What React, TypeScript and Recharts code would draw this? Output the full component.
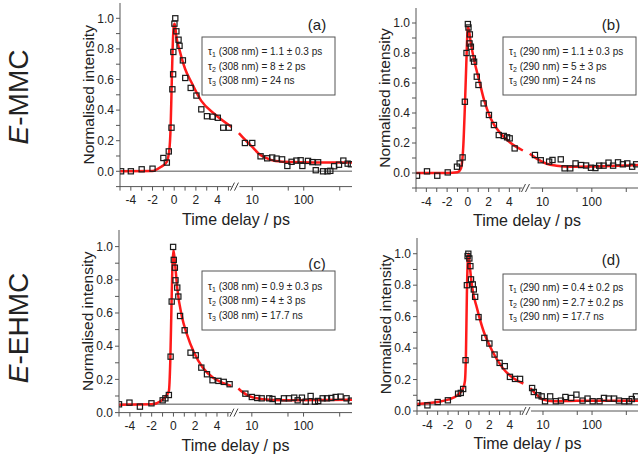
import React from 'react';
import { ComposedChart, Line, Scatter, XAxis, YAxis, ReferenceLine, ReferenceDot } from 'recharts';

// broken time axis: linear up to 5.3 ps, log beyond (one decade = 4.75 linear units)
const LIN_END = 5.3;
const toU = (t: number) => (t <= LIN_END ? t : 7.2 + 4.75 * (Math.log10(t) - 1));

const xTickTimes = [-5, -4, -3, -2, -1, 0, 1, 2, 3, 4, 5, 10, 50, 100, 500];
const xTickLabels = ['', '-4', '', '-2', '', '0', '', '2', '', '4', '', '10', '', '100', ''];

// (a) E-MMC, 308 nm
const aT = [-4.9, -4, -3, -2, -1, -0.68, -0.5, -0.25, -0.17, -0.1, -0.08, 0.02, 0.1, 0.2, 0.4, 0.49, 0.8, 1.02, 1.52, 2.05, 2.5, 3.02, 3.55, 4.02, 4.52, 5.04,
  7.2, 10, 14.5, 19.5, 24.4, 29.6, 38, 48, 58, 72, 87, 94, 121, 147, 171, 190, 237, 289, 328, 389, 483, 587, 713, 824];
const aY = [0, 0, 0.013, 0.017, 0.087, 0.057, 0.13, 0.285, 0.536, 0.634, 0.78, 0.965, 1.0, 0.915, 0.86, 0.82, 0.725, 0.61, 0.545, 0.495, 0.405, 0.36, 0.357, 0.35, 0.285, 0.285,
  0.185, 0.185, 0.098, 0.085, 0.09, 0.083, 0.078, 0.035, 0.062, 0.07, 0.072, 0.035, 0.068, 0.06, 0.007, 0.059, 0, 0, 0.003, 0.033, 0.043, 0.07, 0.05, 0.046];
const aFitLinT = [-5, -2, -1.2, -0.7, -0.45, -0.33, -0.25, -0.15, -0.03, 0.05, 0.2, 0.5, 1, 1.6, 2.5, 3.8, 5.3];
const aFitLinY = [0, 0.002, 0.03, 0.06, 0.14, 0.29, 0.51, 0.79, 0.955, 0.965, 0.88, 0.79, 0.67, 0.58, 0.46, 0.37, 0.29];
const aFitLogT = [5.5, 7.4, 10, 13.4, 18, 28, 60, 150, 900];
const aFitLogY = [0.25, 0.203, 0.159, 0.115, 0.089, 0.067, 0.06, 0.058, 0.057];
const aTau = ['1.1 ± 0.3 ps', '8 ± 2 ps', '24 ns'];

// (b) E-MMC, 290 nm
const bT = [-4.9, -3.94, -2.95, -1.94, -1.05, -0.79, -0.51, -0.29, -0.13, 0, 0.06, 0.19, 0.16, 0.29, 0.48, 0.6, 0.86, 1.02, 1.52, 2.03, 2.51, 2.98, 3.46, 3.78, 4.03, 4.51,
  7.0, 9.2, 13.6, 15.9, 23.4, 28, 36.5, 46.7, 60.6, 76.5, 96, 118, 141, 173, 218, 270, 340, 426, 524, 658, 793];
const bY = [-0.018, 0.011, -0.018, 0.004, 0.042, 0.064, 0.104, 0.475, 0.8, 0.993, 0.97, 0.924, 0.864, 0.842, 0.764, 0.742, 0.642, 0.587, 0.464, 0.387, 0.32, 0.253, 0.247, 0.238, 0.231, 0.164,
  0.12, 0.085, 0.076, 0.087, 0.091, 0.031, 0.031, 0.064, 0.053, 0.05, 0.035, 0.033, 0.049, 0.049, 0.069, 0.049, 0.071, 0.058, 0.064, 0.042, 0.058];
const bFitLinT = [-5, -2, -1, -0.67, -0.44, -0.29, -0.16, -0.03, 0.03, 0.29, 0.6, 1.08, 1.56, 2.2, 3.14, 4.1, 5.3];
const bFitLinY = [0, 0, 0.005, 0.03, 0.18, 0.44, 0.71, 0.95, 0.975, 0.864, 0.753, 0.62, 0.487, 0.364, 0.264, 0.202, 0.15];
const bFitLogT = [5.5, 7.6, 12.1, 19.1, 38.8, 166, 900];
const bFitLogY = [0.128, 0.096, 0.062, 0.049, 0.042, 0.045, 0.053];
const bTau = ['1.1 ± 0.3 ps', '5 ± 3 ps', '24 ns'];

// (c) E-EHMC, 308 nm
const cT = [-5, -4.04, -3.08, -2.02, -0.99, -0.74, -0.42, -0.26, -0.16, -0.03, 0.03, 0.13, 0.19, 0.35, 0.45, 0.61, 1.03, 1.57, 2.05, 2.56, 3.08, 3.59, 4.13, 4.62, 5.16,
  7.5, 10, 12.7, 15.5, 21.7, 25.1, 32, 41.8, 52, 66, 77, 93, 110, 137, 166, 192, 234, 284, 344, 418, 520, 679, 824];
const cY = [0.05, 0.06, 0.036, 0.056, 0.074, 0.086, 0.106, 0.337, 0.669, 0.998, 0.92, 0.873, 0.797, 0.753, 0.699, 0.582, 0.496, 0.361, 0.345, 0.271, 0.231, 0.195, 0.191, 0.185, 0.171,
  0.114, 0.094, 0.088, 0.086, 0.086, 0.082, 0.068, 0.086, 0.086, 0.09, 0.074, 0.09, 0.066, 0.1, 0.066, 0.07, 0.086, 0.086, 0.088, 0.094, 0.096, 0.086, 0.072];
const cFitLinT = [-5, -2, -1.15, -0.67, -0.42, -0.29, -0.19, -0.1, 0, 0.13, 0.35, 0.77, 1.25, 1.9, 2.7, 3.65, 4.6, 5.3];
const cFitLinY = [0.048, 0.05, 0.07, 0.1, 0.13, 0.31, 0.61, 0.87, 0.98, 0.91, 0.75, 0.58, 0.47, 0.36, 0.27, 0.21, 0.177, 0.16];
const cFitLogT = [5.5, 6.2, 10.7, 25, 60, 900];
const cFitLogY = [0.145, 0.13, 0.09, 0.076, 0.075, 0.078];
const cTau = ['0.9 ± 0.3 ps', '4 ± 3 ps', '17.7 ns'];

// (d) E-EHMC, 290 nm
const dT = [-4.98, -3.99, -3, -2.01, -1.02, -0.76, -0.53, -0.3, -0.17, -0.1, -0.03, 0.07, 0.17, 0.23, 0.4, 0.5, 0.63, 0.96, 1.52, 2.01, 2.51, 3, 3.5, 4, 4.49, 4.98,
  6.0, 6.5, 8.0, 9.4, 11, 14, 18.3, 23.2, 28.6, 37.6, 48, 64, 81, 103, 142, 175, 218, 282, 353, 456, 570, 646, 785];
const dY = [0.051, 0.036, 0.057, 0.068, 0.11, 0.115, 0.14, 0.323, 0.8, 0.985, 1.0, 0.97, 0.921, 0.837, 0.805, 0.773, 0.726, 0.597, 0.465, 0.429, 0.359, 0.306, 0.285, 0.217, 0.204, 0.204,
  0.146, 0.121, 0.1, 0.093, 0.062, 0.093, 0.062, 0.066, 0.089, 0.083, 0.104, 0.066, 0.079, 0.062, 0.062, 0.083, 0.079, 0.079, 0.066, 0.062, 0.062, 0.076, 0.093];
const dFitLinT = [-5, -3, -2, -1, -0.53, -0.36, -0.26, -0.17, -0.07, 0, 0.13, 0.36, 0.8, 1.45, 2.3, 3.3, 4.3, 5.3];
const dFitLinY = [0.045, 0.057, 0.072, 0.104, 0.146, 0.19, 0.36, 0.74, 0.975, 1.0, 0.91, 0.78, 0.656, 0.507, 0.38, 0.274, 0.21, 0.175];
const dFitLogT = [5.5, 7.4, 10.1, 16.2, 50, 900];
const dFitLogY = [0.145, 0.104, 0.072, 0.062, 0.065, 0.065];
const dTau = ['0.4 ± 0.2 ps', '2.7 ± 0.2 ps', '17.7 ns'];

const pts = (ts: number[], ys: number[]) => ts.map((t, i) => ({ u: toU(t), y: ys[i] }));
const xTicksU = xTickTimes.map(toU);
const fmtX = (v: number) => {
  const i = xTicksU.findIndex((u) => Math.abs(u - v) < 1e-6);
  return i >= 0 ? xTickLabels[i] : '';
};
const fmtY = (v: number) => {
  const k = Math.round(v * 10);
  return k >= 0 && k % 2 === 0 ? (k / 10).toFixed(1) : '';
};

const FONT = '"Liberation Sans", Arial, sans-serif';
const RED = '#ff1a1a';

const Square = (p: any) => (
  <rect x={p.cx - 2.6} y={p.cy - 2.6} width={5.2} height={5.2} fill="none" stroke="#1a1a1a" strokeWidth={1.2} />
);

const BreakMark = (p: any) => (
  <g>
    <rect x={p.cx - 4} y={p.cy - 1} width={8} height={2} fill="#fff" />
    <line x1={p.cx - 5} y1={p.cy + 4} x2={p.cx - 1} y2={p.cy - 4} stroke="#444" strokeWidth={1} />
    <line x1={p.cx - 1} y1={p.cy + 4} x2={p.cx + 3} y2={p.cy - 4} stroke="#444" strokeWidth={1} />
  </g>
);

const panels = [
  { left: 120, right: 352, top: 2.7, bottom: 186.3, yMin: -0.1, base: 0, t: aT, y: aY, flt: aFitLinT, fly: aFitLinY, fgt: aFitLogT, fgy: aFitLogY,
    tau: aTau, nm: '308', tag: '(a)', tagX: 317, tagY: 25, boxX: 202, boxY: 37, boxH: 58 },
  { left: 416, right: 638, top: 8, bottom: 188, yMin: -0.1, base: 0, t: bT, y: bY, flt: bFitLinT, fly: bFitLinY, fgt: bFitLogT, fgy: bFitLogY,
    tau: bTau, nm: '290', tag: '(b)', tagX: 611, tagY: 25, boxX: 503, boxY: 37, boxH: 58 },
  { left: 119, right: 352, top: 230.4, bottom: 413, yMin: 0, base: 0.05, t: cT, y: cY, flt: cFitLinT, fly: cFitLinY, fgt: cFitLogT, fgy: cFitLogY,
    tau: cTau, nm: '308', tag: '(c)', tagX: 317, tagY: 264, boxX: 202, boxY: 271, boxH: 59 },
  { left: 417, right: 638, top: 238, bottom: 411, yMin: 0, base: 0.04, t: dT, y: dY, flt: dFitLinT, fly: dFitLinY, fgt: dFitLogT, fgy: dFitLogY,
    tau: dTau, nm: '290', tag: '(d)', tagX: 611, tagY: 260, boxX: 503, boxY: 274, boxH: 56 },
];

const ML = 40, YW = 40, MT = 6, MR = 4, XH = 48;

function Panel({ p }: { p: any }) {
  const w = p.right - p.left + YW + ML + MR;
  const h = p.bottom - p.top + MT + XH;
  const yTicks: number[] = [];
  for (let k = Math.round(p.yMin * 10); k <= 10; k++) yTicks.push(k / 10);
  return (
    <div style={{ position: 'absolute', left: p.left - YW - ML, top: p.top - MT }}>
      <ComposedChart width={w} height={h} margin={{ top: MT, right: MR, bottom: 0, left: ML }}>
        <XAxis type="number" dataKey="u" domain={[-5, 16.4]} ticks={xTicksU} tickFormatter={fmtX} interval={0}
          allowDataOverflow height={XH} tickSize={4} tickMargin={5} stroke="#555"
          tick={{ fill: '#222', fontSize: 12, fontFamily: FONT }}
          label={{ value: 'Time delay / ps', position: 'insideBottom', offset: 10, fill: '#222', fontSize: 16, fontFamily: FONT }} />
        <YAxis type="number" dataKey="y" domain={[p.yMin, 1.1]} ticks={yTicks} tickFormatter={fmtY} interval={0}
          allowDataOverflow width={YW} tickSize={4} stroke="#555"
          tick={{ fill: '#222', fontSize: 12, fontFamily: FONT }}
          label={{ value: 'Normalised intensity', angle: -90, position: 'insideLeft', offset: 8, fill: '#222', fontSize: 15.5, fontFamily: FONT, style: { textAnchor: 'middle' } }} />
        <ReferenceLine y={p.base} stroke="#8c8c8c" strokeWidth={1.5} />
        <Scatter data={pts(p.t, p.y)} shape={Square} isAnimationActive={false} />
        <Line data={pts(p.flt, p.fly)} dataKey="y" type="monotone" stroke={RED} strokeWidth={2.5} dot={false} isAnimationActive={false} />
        <Line data={pts(p.fgt, p.fgy)} dataKey="y" type="monotone" stroke={RED} strokeWidth={2.5} dot={false} isAnimationActive={false} />
        <ReferenceDot x={5.65} y={p.yMin} r={0} shape={BreakMark} ifOverflow="visible" />
      </ComposedChart>
    </div>
  );
}

export default function App() {
  return (
    <div style={{ position: 'absolute', left: 0, top: 0, width: 641, height: 456, background: '#fff', overflow: 'hidden', fontFamily: FONT }}>
      {panels.map((p, i) => <Panel key={i} p={p} />)}
      <svg width={641} height={456} style={{ position: 'absolute', left: 0, top: 0, pointerEvents: 'none' }} fontFamily={FONT}>
        <text transform="translate(28,97) rotate(-90)" textAnchor="middle" fontSize={28} fill="#222">
          <tspan fontStyle="italic">E</tspan>-MMC
        </text>
        <text transform="translate(28,328) rotate(-90)" textAnchor="middle" fontSize={28} fill="#222">
          <tspan fontStyle="italic">E</tspan>-EHMC
        </text>
        {panels.map((p, i) => {
          const cy = p.boxY + p.boxH / 2;
          return (
            <g key={i}>
              <text x={p.tagX} y={p.tagY + 5} textAnchor="middle" fontSize={15} fill="#222">{p.tag}</text>
              <rect x={p.boxX} y={p.boxY} width={133} height={p.boxH} fill="#fff" stroke="#555" strokeWidth={1} />
              {p.tau.map((s: string, j: number) => (
                <text key={j} x={p.boxX + 6} y={cy + 3.5 + (j - 1) * 14.5} fontSize={10} fill="#222">
                  τ<tspan fontSize={7} dy={2}>{j + 1}</tspan><tspan dy={-2}>{` (${p.nm} nm) = ${s}`}</tspan>
                </text>
              ))}
            </g>
          );
        })}
      </svg>
    </div>
  );
}
